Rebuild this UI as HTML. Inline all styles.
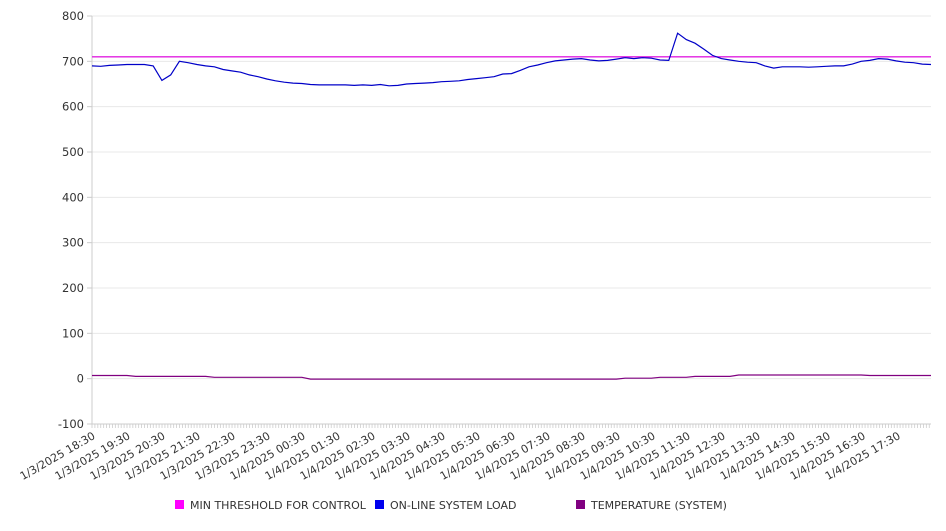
<!DOCTYPE html>
<html><head><meta charset="utf-8"><style>
body{margin:0;background:#fff;font-family:"Liberation Sans","DejaVu Sans",sans-serif;}
svg text{font-family:"DejaVu Sans","Liberation Sans",sans-serif;fill:#333;}
</style></head><body>
<svg id="chart" width="946" height="526" xmlns="http://www.w3.org/2000/svg"></svg>
<script>
const yTicks=[800,700,600,500,400,300,200,100,0,-100];
const xLabels=["1/3/2025 18:30","1/3/2025 19:30","1/3/2025 20:30","1/3/2025 21:30","1/3/2025 22:30","1/3/2025 23:30","1/4/2025 00:30","1/4/2025 01:30","1/4/2025 02:30","1/4/2025 03:30","1/4/2025 04:30","1/4/2025 05:30","1/4/2025 06:30","1/4/2025 07:30","1/4/2025 08:30","1/4/2025 09:30","1/4/2025 10:30","1/4/2025 11:30","1/4/2025 12:30","1/4/2025 13:30","1/4/2025 14:30","1/4/2025 15:30","1/4/2025 16:30","1/4/2025 17:30"];
const threshold=710;
const loadValues=[690,689,691,692,693,693,693,690,658,670,700,697,693,690,688,682,679,676,670,666,661,657,654,652,651,649,648,648,648,648,647,648,647,649,646,647,650,651,652,653,655,656,657,660,662,664,666,672,673,680,688,692,697,701,703,705,706,703,701,702,705,708,706,708,707,703,702,762,748,740,727,713,706,703,700,698,697,690,685,688,688,688,687,688,689,690,690,694,700,702,706,705,701,698,697,694,693];
const tempValues=[7,7,7,7,7,5,5,5,5,5,5,5,5,5,3,3,3,3,3,3,3,3,3,3,3,-1,-1,-1,-1,-1,-1,-1,-1,-1,-1,-1,-1,-1,-1,-1,-1,-1,-1,-1,-1,-1,-1,-1,-1,-1,-1,-1,-1,-1,-1,-1,-1,-1,-1,-1,-1,1,1,1,1,3,3,3,3,5,5,5,5,5,8,8,8,8,8,8,8,8,8,8,8,8,8,8,8,7,7,7,7,7,7,7,7];

const svg=document.getElementById('chart');
const NS='http://www.w3.org/2000/svg';
const X0=92,X1=931,Y0=16,Y1=424,VMAX=800,VMIN=-100;
const N=loadValues.length;
function yS(v){return Y0+(VMAX-v)/(VMAX-VMIN)*(Y1-Y0);}
function xS(i){return X0+i/(N-1)*(X1-X0);}
function mk(tag,attrs,parent){const e=document.createElementNS(NS,tag);for(const k in attrs)e.setAttribute(k,attrs[k]);(parent||svg).appendChild(e);return e;}

const grid=mk('g',{});


const yAxis=mk('g',{});


yTicks.forEach(v=>{
  const y=yS(v);
  if(v!==VMIN){const l=mk('line',{x1:X0,x2:X1,y1:y,y2:y,stroke:'#e8e8e8','stroke-width':1},grid);
  
  }
  mk('line',{x1:X0-5,x2:X0,y1:y,y2:y,stroke:'#ccc'},yAxis);
  const t=mk('text',{x:84,y:y+4,'text-anchor':'end','font-size':11.5},yAxis);
  t.textContent=v;
  
  
});
mk('line',{x1:X0,x2:X0,y1:Y0,y2:Y1,stroke:'#ccc'},yAxis);

const xAxis=mk('g',{});


mk('line',{x1:X0,x2:X1,y1:Y1,y2:Y1,stroke:'#ccc'},xAxis);
const hourPx=(X1-X0)/(1438/60);
for(let m=0;m<=1438;m+=5){const x=X0+m/60*hourPx;mk('line',{x1:x,x2:x,y1:Y1,y2:Y1+4,stroke:'#ccc','stroke-width':0.8},xAxis);}
xLabels.forEach((s,i)=>{
  const x=X0+i*hourPx+4;
  const y=Y1+14;
  const t=mk('text',{x:x,y:y,'text-anchor':'end','font-size':11,transform:`rotate(-30 ${x} ${y})`},xAxis);
  t.textContent=s;
  
  
});

const th=mk('line',{x1:X0,x2:X1,y1:yS(threshold),y2:yS(threshold),stroke:'#e020e0','stroke-width':1.3});


function path(vals,color,name){
  const d=vals.map((v,i)=>(i?'L':'M')+xS(i).toFixed(1)+' '+yS(v).toFixed(1)).join(' ');
  const p=mk('path',{d:d,fill:'none',stroke:color,'stroke-width':1.2});
  
  
}
path(tempValues,'#800080','temperature-line');
path(loadValues,'#0000c8','system-load-line');

const legend=mk('g',{});


[['MIN THRESHOLD FOR CONTROL','#ff00ff',175],['ON-LINE SYSTEM LOAD','#0000ee',375],['TEMPERATURE (SYSTEM)','#800080',576]].forEach(([s,c,x])=>{
  const g=mk('g',{},legend);
  
  
  mk('rect',{x:x,y:500,width:9,height:9,fill:c},g);
  const t=mk('text',{x:x+15,y:509,'font-size':11},g);
  t.textContent=s;
});
</script>
</body></html>
